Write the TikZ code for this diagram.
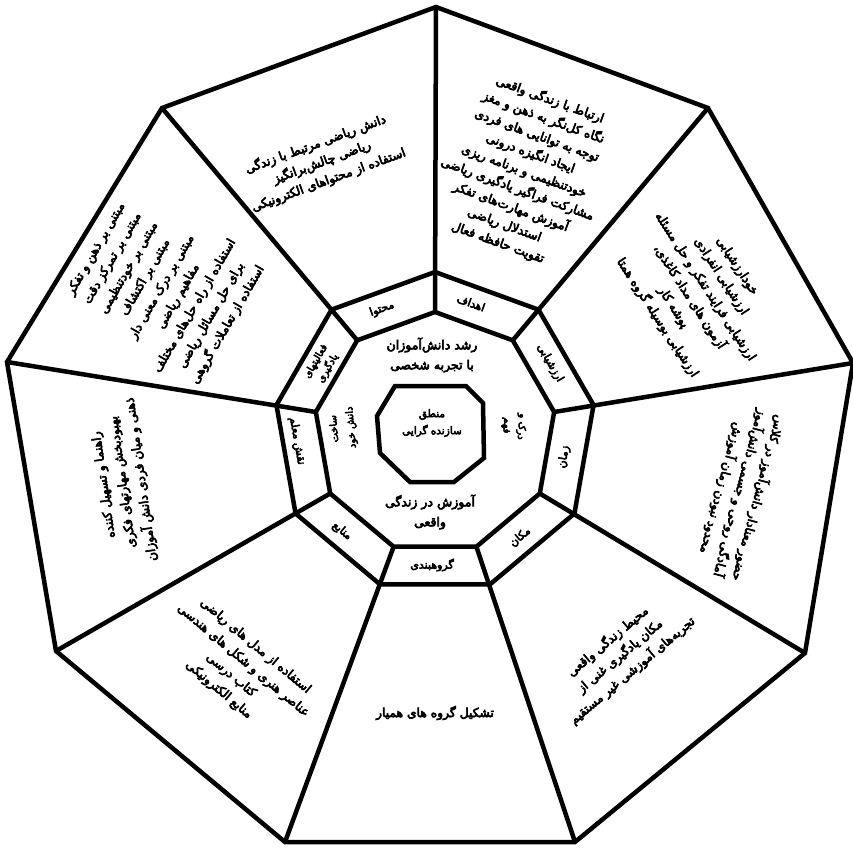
\documentclass[tikz,border=0pt]{standalone}
\usepackage{fontspec}
\newfontfamily\farsi[Script=Arabic, FakeBold=5]{DejaVu Sans}
\TeXXeTstate=1
\usetikzlibrary{positioning}
\newcommand{\fa}[1]{\beginR #1\endR}
\tikzset{
  wall/.style={line width=4.5pt},
  txt/.style={font=\farsi\fontsize{12.3}{19}\selectfont, align=center, inner sep=0pt},
  ringtxt/.style={txt, font=\farsi\fontsize{11}{15}\selectfont},
}

\begin{document}
\begin{tikzpicture}[x=1pt, y=1pt]
  \useasboundingbox (-435,-414) rectangle (418,433);
  \foreach \i/\a in {1/90,2/50,3/10,4/-30,5/-70,6/-110,7/-150,8/170,9/130} {
    \coordinate (a\i) at (\a:161);
    \coordinate (b\i) at (\a:121);
  }
  \coordinate (c1) at (1,426);
  \coordinate (c2) at (273,325);
  \coordinate (c3) at (418,70);
  \coordinate (c4) at (370,-220);
  \coordinate (c5) at (140,-409);
  \coordinate (c6) at (-150,-409);
  \coordinate (c7) at (-379,-218);
  \coordinate (c8) at (-428,71);
  \coordinate (c9) at (-273,325);
  \coordinate (i1) at (-40,47);
  \coordinate (i2) at (31,47);
  \coordinate (i3) at (48,30);
  \coordinate (i4) at (49,-25);
  \coordinate (i5) at (19,-49);
  \coordinate (i6) at (-25,-49);
  \coordinate (i7) at (-55,-20);
  \coordinate (i8) at (-58,17);

  % outer segments
  \node[txt, rotate=20] (contents) at (-113,271) {\fa{دانش ریاضی مرتبط با زندگی}\\\fa{ریاضی چالش‌برانگیز}\\\fa{استفاده از محتواهای الکترونیکی}};
  \node[txt, rotate=-20] (goals) at (89,262) {\fa{ارتباط با زندگی واقعی}\\\fa{نگاه کل‌نگر به ذهن و مغز}\\\fa{توجه به توانایی های فردی}\\\fa{ایجاد انگیزه درونی}\\\fa{خودتنظیمی و برنامه ریزی}\\\fa{مشارکت فراگیر یادگیری ریاضی}\\\fa{آموزش مهارت‌های تفکر}\\\fa{استدلال ریاضی}\\\fa{تقویت حافظه فعال}};
  \node[txt, rotate=-57] (assess) at (262,141) {\fa{خودارزشیابی}\\\fa{ارزشیابی انفرادی}\\\fa{ارزشیابی فرایند تفکر و حل مسئله}\\\fa{آزمون های مداد کاغذی،}\\\fa{پوشه کار}\\\fa{ارزشیابی بوسیله گروه همتا}};
  \node[txt, rotate=-105] (time) at (305,-60) {\fa{حضور معنادار دانش‌آموز در کلاس}\\\fa{آمادگی روحی و جسمی دانش‌آموز}\\\fa{محدود نبودن زمان آموزش}};
  \node[txt, rotate=40] (place) at (185,-223) {\fa{محیط زندگی واقعی}\\\fa{مکان یادگیری غنی از}\\\fa{تجربه‌های آموزشی غیر مستقیم}};
  \node[txt] (grouping) at (0,-280) {\fa{تشکیل گروه های همیار}};
  \node[txt, rotate=-40] (sources) at (-198,-235) {\fa{استفاده از مدل های ریاضی}\\\fa{عناصر هنری و شکل های هندسی}\\\fa{کتاب درسی}\\\fa{منابع الکترونیکی}};
  \node[txt, rotate=98] (teacher) at (-312,-49) {\fa{راهنما و تسهیل کننده}\\\fa{بهبودبخش مهارتهای فکری}\\\fa{ذهنی و میان فردی دانش آموزان}};
  \node[txt, rotate=60] (activity) at (-273,146) {\fa{مبتنی بر ذهن و تفکر}\\\fa{مبتنی بر تمرکز دقت}\\\fa{مبتنی بر خودتنظیمی}\\\fa{مبتنی بر اکتشاف}\\\fa{مبتنی بر درک معنی دار}\\\fa{مفاهیم ریاضی}\\\fa{استفاده از راه حل‌های مختلف}\\\fa{برای حل مسائل ریاضی}\\\fa{استفاده از تعاملات گروهی}};

  % ring
  \node[ringtxt, rotate=20] (rcontents) at (-53,124) {\fa{محتوا}};
  \node[ringtxt, rotate=-20] (rgoals) at (36,130) {\fa{اهداف}};
  \node[ringtxt, rotate=-60] (rassess) at (115,70) {\fa{ارزشیابی}};
  \node[ringtxt, rotate=80] (rtime) at (129,-24) {\fa{زمان}};
  \node[ringtxt, rotate=40] (rplace) at (85,-104) {\fa{مکان}};
  \node[ringtxt] (rgrouping) at (-3,-132) {\fa{گروهبندی}};
  \node[ringtxt, rotate=-40] (rsources) at (-93,-98) {\fa{منابع}};
  \node[ringtxt, rotate=-80] (rteacher) at (-138,-8) {\fa{نقش معلم}};
  \node[ringtxt, rotate=60, font=\farsi\fontsize{10}{14}\selectfont] (ractivity) at (-113,68) {\fa{فعالیتهای}\\\fa{یادگیری}};

  % middle
  \node[ringtxt, font=\farsi\fontsize{12.5}{20}\selectfont] (growth) at (-3,78) {\fa{رشد دانش‌آموزان}\\\fa{با تجربه شخصی}};
  \node[ringtxt, font=\farsi\fontsize{12.5}{20}\selectfont] (reallife) at (-5,-79) {\fa{آموزش در زندگی}\\\fa{واقعی}};
  \node[ringtxt, rotate=95, font=\farsi\fontsize{10}{17}\selectfont] (build) at (-92,5) {\fa{ساخت}\\\fa{دانش خود}};
  \node[ringtxt, rotate=-95, font=\farsi\fontsize{10}{15}\selectfont] (understand) at (79,7) {\fa{درک و}\\\fa{فهم}};
  \node[ringtxt, font=\farsi\fontsize{10.5}{17}\selectfont] (logic) at (-3,10) {\fa{منطق}\\\fa{سازنده گرایی}};

  \draw[wall] (c1) -- (c2) -- (c3) -- (c4) -- (c5) -- (c6) -- (c7) -- (c8) -- (c9) -- cycle;
  \draw[wall] (a1) -- (a2) -- (a3) -- (a4) -- (a5) -- (a6) -- (a7) -- (a8) -- (a9) -- cycle;
  \draw[wall] (b1) -- (b2) -- (b3) -- (b4) -- (b5) -- (b6) -- (b7) -- (b8) -- (b9) -- cycle;
  \draw[wall] (i1) -- (i2) -- (i3) -- (i4) -- (i5) -- (i6) -- (i7) -- (i8) -- cycle;
  \foreach \i in {1,...,9}
    \draw[wall] (b\i) -- (c\i);
\end{tikzpicture}
\end{document}
